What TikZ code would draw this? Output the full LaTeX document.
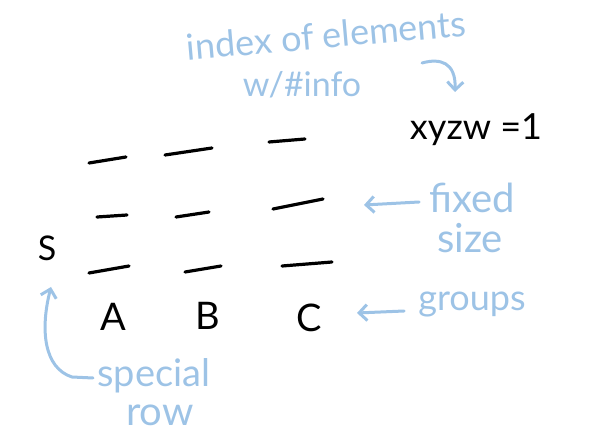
\documentclass[tikz,border=0pt]{standalone}
\usepackage{fontspec}
\setmainfont{Lato}
\usetikzlibrary{arrows.meta}
\definecolor{pen}{RGB}{157,195,230}
\tikzset{
  stroke/.style={line width=3.2pt, line cap=round},
  ink/.style={inner sep=0pt, font=\fontsize{34}{38}\selectfont},
  note/.style={inner sep=0pt, text=pen, font=\fontsize{34}{38}\selectfont},
  pointer/.style={draw=pen, line width=3pt, line cap=round, line join=round,
    -{Straight Barb[length=8pt,width=16pt,line width=3pt]}}
}
\begin{document}
\begin{tikzpicture}[x=1pt,y=-1pt]
\useasboundingbox (0,0) rectangle (600,446);

	% the slots
	\draw[stroke] (89,163) -- (126,157);
	\draw[stroke] (165,155) -- (212,148);
	\draw[stroke] (269,142) -- (305,139);
	\draw[stroke] (97,217) -- (127,215);
	\draw[stroke] (176,217) -- (209,212);
	\draw[stroke] (273,209) -- (323,199);
	\draw[stroke] (89,273) -- (129,266);
	\draw[stroke] (185,272) -- (221,266);
	\draw[stroke] (282,266) -- (332,262);

	\node[ink] (s) at (47,248) {S};
	\node[ink, font=\fontsize{38}{40}\selectfont] (A) at (113,317) {A};
	\node[ink, font=\fontsize{38}{40}\selectfont] (B) at (208,316) {B};
	\node[ink, font=\fontsize{38}{40}\selectfont] (C) at (309,318) {C};
	\node[ink, font=\fontsize{36}{40}\selectfont] (xyzw) at (476,130) {xyzw =1};

	\node[note, font=\fontsize{36}{40}\selectfont, rotate=5] (index) at (326,35) {index of elements};
	\node[note] (info) at (302,85) {w/\#info};
	\node[note, font=\fontsize{40}{44}\selectfont] (fixed) at (472,198) {fixed};
	\node[note, font=\fontsize{40}{44}\selectfont] (size) at (470,238) {size};
	\node[note, font=\fontsize{36}{40}\selectfont] (groups) at (472,305) {groups};
	\node[note, font=\fontsize{38}{42}\selectfont] (special) at (154,376) {special};
	\node[note, font=\fontsize{40}{44}\selectfont] (row) at (160,415) {row};

	\coordinate (ixtail) at (422,63);
	\coordinate (ixhead) at (455,92);
	\coordinate (fxhead) at (364,205);
	\coordinate (grhead) at (357,313);
	\coordinate (sptail) at (93,378);
	\coordinate (sphead) at (51,287);

	\draw[pointer] (ixtail) .. controls (440,58) and (456,62) .. (ixhead);
	\draw[pointer] (fixed.west) ++(-10,4) -- (fxhead);
	\draw[pointer] (groups.west) ++(-14,6) -- (grhead);
	\draw[pointer] (sptail) -- (72,377) .. controls (44,368) and (40,330) .. (sphead);

\end{tikzpicture}
\end{document}
